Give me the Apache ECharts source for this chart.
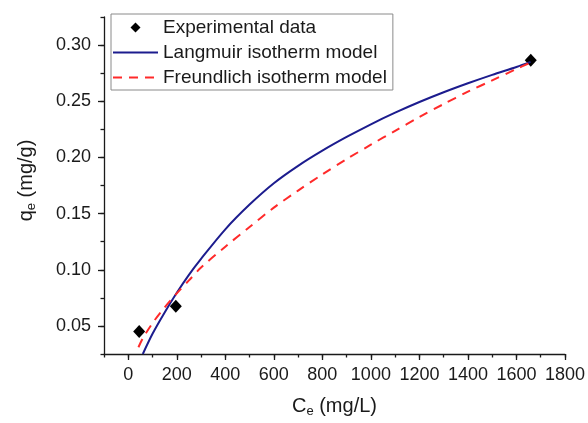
<!DOCTYPE html>
<html>
<head>
<meta charset="utf-8">
<script src="https://cdn.jsdelivr.net/npm/echarts@6/dist/echarts.min.js"></script>
<style>
  html, body { margin: 0; padding: 0; background: #fff; }
  #chart { width: 588px; height: 423px; }
</style>
</head>
<body>
<div id="chart"></div>
<script>
// experimental points (Ce, qe)
const expC = [45, 196, 1659]
const expQ = [0.045, 0.0675, 0.2865]

// fitted curves
const langC = [60, 100, 150, 200, 250, 300, 400, 500, 600, 700, 800, 900, 1000, 1100, 1200, 1300, 1400, 1500, 1600, 1658]
const langQ = [0.025, 0.043, 0.062, 0.0795, 0.0955, 0.1097, 0.136, 0.158, 0.177, 0.1925, 0.206, 0.2182, 0.2295, 0.2398, 0.2493, 0.258, 0.266, 0.2735, 0.2805, 0.285]

const freuC = [42, 60, 100, 150, 200, 250, 300, 400, 500, 600, 700, 800, 900, 1000, 1100, 1200, 1300, 1400, 1500, 1600, 1658]
const freuQ = [0.031, 0.039, 0.0525, 0.0665, 0.079, 0.0905, 0.102, 0.1205, 0.1381, 0.1553, 0.1705, 0.1849, 0.1985, 0.2113, 0.2237, 0.236, 0.2475, 0.2585, 0.2686, 0.2787, 0.2845]

const xMajorTicks = [0, 200, 400, 600, 800, 1000, 1200, 1400, 1600, 1800]
const yMajorTicks = [0.05, 0.10, 0.15, 0.20, 0.25, 0.30]

const seriesNames = ['Experimental data', 'Langmuir isotherm model', 'Freundlich isotherm model']

const zip = (xs, ys) => xs.map((x, i) => [x, ys[i]])

const txt = '#1a1a1a'
const font = 'Liberation Sans, Arial, sans-serif'
const blue = '#1c1c8e'
const red = '#ff2a2a'

const chart = echarts.init(document.getElementById('chart'))

const axisLineStyle = { color: txt, width: 1.3 }
const nameRich = {
  a: { fontSize: 20, color: txt, fontFamily: font },
  b: { fontSize: 13, color: txt, fontFamily: font, padding: [11, 0, 0, 0] }
}
// diamond in the middle of a 45x14 legend box
const legendDiamond = 'path://M0,0M45,14M22.5,2L27.5,7L22.5,12L17.5,7Z'
const noMarker = { color: 'rgba(0,0,0,0)', borderWidth: 0 }

chart.setOption({
  animation: false,
  textStyle: { fontFamily: font, color: txt },
  grid: { left: 104, right: 20, top: 17, bottom: 64 },
  legend: {
    orient: 'vertical',
    left: 111,
    top: 14,
    data: [
      { name: seriesNames[0], icon: legendDiamond, itemStyle: { color: '#000', opacity: 1 } },
      { name: seriesNames[1], itemStyle: noMarker },
      { name: seriesNames[2], itemStyle: noMarker }
    ],
    itemWidth: 45,
    itemHeight: 14,
    itemGap: 6,
    padding: [4, 6, 3, 1],
    borderColor: '#8a8a8a',
    borderWidth: 1,
    textStyle: { fontSize: 19, color: txt, fontFamily: font }
  },
  xAxis: [
    {
      type: 'value',
      min: -100,
      max: 1800,
      name: '{a|C}{b|e}{a| (mg/L)}',
      nameLocation: 'middle',
      nameGap: 40,
      nameTextStyle: { rich: nameRich },
      splitLine: { show: false },
      axisLine: { onZero: false, lineStyle: axisLineStyle },
      axisTick: { customValues: xMajorTicks, length: 6, lineStyle: axisLineStyle },
      axisLabel: {
        customValues: xMajorTicks,
        fontSize: 18,
        color: txt,
        margin: 12,
        formatter: v => String(v)
      }
    },
    {
      type: 'value',
      min: -100,
      max: 1800,
      interval: 100,
      position: 'bottom',
      splitLine: { show: false },
      axisLine: { show: false, onZero: false },
      axisTick: { length: 3.5, lineStyle: axisLineStyle },
      axisLabel: { show: false }
    }
  ],
  yAxis: [
    {
      type: 'value',
      min: 0.025,
      max: 0.325,
      name: '{a|q}{b|e}{a| (mg/g)}',
      nameLocation: 'middle',
      nameRotate: 90,
      nameGap: 66,
      nameTextStyle: { rich: nameRich, padding: [0, 0, 0, 10] },
      splitLine: { show: false },
      axisLine: { onZero: false, lineStyle: axisLineStyle },
      axisTick: { customValues: yMajorTicks, length: 6, lineStyle: axisLineStyle },
      axisLabel: {
        customValues: yMajorTicks,
        fontSize: 18,
        color: txt,
        margin: 13,
        formatter: v => v.toFixed(2)
      }
    },
    {
      type: 'value',
      min: 0.025,
      max: 0.325,
      interval: 0.025,
      position: 'left',
      splitLine: { show: false },
      axisLine: { show: false, onZero: false },
      axisTick: { length: 3.5, lineStyle: axisLineStyle },
      axisLabel: { show: false }
    }
  ],
  series: [
    {
      name: seriesNames[1],
      type: 'line',
      data: zip(langC, langQ),
      smooth: 0.3,
      symbol: 'none',
      lineStyle: { color: blue, width: 2 },
      itemStyle: { color: blue }
    },
    {
      name: seriesNames[2],
      type: 'line',
      data: zip(freuC, freuQ),
      smooth: 0.3,
      symbol: 'none',
      lineStyle: { color: red, width: 2, type: [9, 7] },
      itemStyle: { color: red }
    },
    {
      name: seriesNames[0],
      type: 'scatter',
      data: zip(expC, expQ),
      symbol: 'diamond',
      symbolSize: [12, 13],
      itemStyle: { color: '#000', opacity: 1 }
    }
  ]
})
</script>
</body>
</html>
